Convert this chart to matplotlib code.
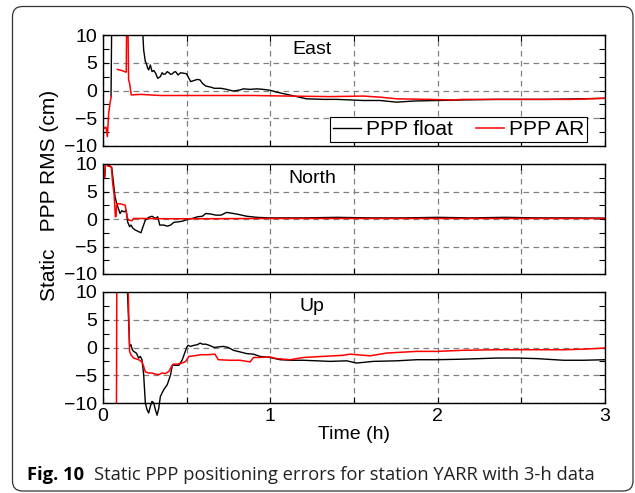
import numpy as np
import matplotlib
matplotlib.use("Agg")
import matplotlib.pyplot as plt
from matplotlib.patches import FancyBboxPatch, Rectangle
from matplotlib.transforms import IdentityTransform
from matplotlib.ticker import MultipleLocator, FuncFormatter

nan = np.nan

# ---------------- data (time in hours, errors in cm) ----------------
east_float_t = [0.048, 0.052, 0.235, 0.243, 0.253, 0.259, 0.266, 0.273, 0.283, 0.293, 0.303, 0.313,
                0.327, 0.343, 0.353, 0.363, 0.373, 0.384, 0.394, 0.404, 0.414, 0.424, 0.434, 0.448,
                0.464, 0.484, 0.500, 0.508, 0.524, 0.544, 0.564, 0.580, 0.594, 0.614, 0.645, 0.665,
                0.705, 0.739, 0.779, 0.819, 0.839, 0.879, 0.919, 0.958, 0.998, 1.038, 1.098, 1.158,
                1.217, 1.317, 1.397, 1.476, 1.556, 1.656, 1.755, 1.855, 1.995, 2.154, 2.353, 2.493,
                2.652, 2.851, 3.0]
east_float_v = [-1.0, 12, 12, 7.3, 5.2, 4.9, 4.1, 3.7, 4.6, 3.4, 3.6, 3.2,
                2.2, 2.5, 3.2, 2.9, 3.0, 3.4, 3.2, 2.9, 3.0, 3.3, 3.4, 2.8,
                3.2, 3.1, 3.0, 2.5, 1.6, 1.8, 2.0, 1.9, 1.3, 0.8, 0.6, 0.4,
                0.4, 0.2, -0.1, 0.1, 0.3, 0.2, 0.3, 0.2, 0.05, -0.3, -0.7, -1.1,
                -1.5, -1.6, -1.6, -1.7, -1.8, -1.8, -2.1, -1.9, -1.8, -1.7, -1.6, -1.6,
                -1.6, -1.5, -1.4]
east_ar_t = [0.0, 0.010, 0.018, 0.026, 0.034, 0.042, 0.050, 0.060, 0.086, 0.112, 0.139, 0.141,
             0.149, 0.153, 0.159, 0.169, 0.223, 0.343, 0.6, 0.9, 1.1, 1.357, 1.556, 1.656,
             1.755, 1.955, 2.094, 2.154, 2.5, 2.8, 3.0]
east_ar_v = [-6.5, -6.8, -6.6, -8.3, -4.1, -2.3, -1.0, nan, 3.8, 3.6, 3.3, 12,
             12, 1.9, 1.3, -0.8, -0.7, -0.9, -0.9, -0.9, -1.0, -1.1, -1.0, -1.2,
             -1.5, -1.6, -1.7, -1.6, -1.6, -1.6, -1.4]

north_float_t = [0.0, 0.010, 0.016, 0.022, 0.030, 0.038, 0.052, 0.062, 0.072, 0.082, 0.092, 0.102,
                 0.112, 0.127, 0.139, 0.147, 0.159, 0.167, 0.179, 0.193, 0.213, 0.227, 0.239, 0.253,
                 0.273, 0.293, 0.313, 0.327, 0.339, 0.363, 0.384, 0.404, 0.424, 0.454, 0.474, 0.494,
                 0.514, 0.534, 0.564, 0.594, 0.614, 0.645, 0.675, 0.705, 0.739, 0.779, 0.799, 0.859,
                 0.919, 0.998, 1.2, 1.4, 1.6, 1.8, 2.0, 2.2, 2.4, 2.6, 2.8, 3.0]
north_float_v = [7.6, 7.6, 10.5, 10.5, 9.8, 9.7, 9.4, 6.7, 4.0, 2.8, 1.9, 1.0,
                 1.5, 1.3, 1.6, -0.5, -1.4, -1.1, -1.7, -2.0, -2.3, -2.5, -1.4, -0.2,
                 0.3, 0.5, 0.1, 0.4, -1.1, -1.1, -1.3, -1.1, -0.6, -0.5, -0.4, -0.2,
                 0.0, 0.1, 0.4, 0.5, 1.0, 0.9, 0.7, 0.7, 1.2, 1.0, 0.9, 0.5,
                 0.3, 0.2, 0.2, 0.3, 0.2, 0.2, 0.3, 0.2, 0.3, 0.2, 0.2, 0.15]
north_ar_t = [0.0, 0.010, 0.016, 0.022, 0.030, 0.050, 0.058, 0.066, 0.074, 0.078, 0.082, 0.112,
              0.133, 0.143, 0.153, 0.173, 0.183, 0.4, 0.6, 1.0, 1.5, 2.0, 2.5, 3.0]
north_ar_v = [7.6, 7.6, 10.5, 10.5, 9.6, 9.5, 6.4, 4.6, 0.4, 0.5, 2.8, 2.7,
              2.5, 0.4, -0.2, -0.3, 0.1, 0.05, 0.05, 0.1, 0.1, 0.1, 0.1, 0.1]

up_float_t = [0.0, 0.141, 0.159, 0.167, 0.175, 0.183, 0.199, 0.213, 0.223, 0.233, 0.243, 0.253,
              0.263, 0.273, 0.283, 0.293, 0.303, 0.313, 0.323, 0.333, 0.343, 0.353, 0.363, 0.384,
              0.404, 0.414, 0.434, 0.454, 0.474, 0.488, 0.500, 0.508, 0.524, 0.544, 0.564, 0.580,
              0.594, 0.614, 0.635, 0.665, 0.689, 0.719, 0.749, 0.779, 0.819, 0.859, 0.899, 0.938,
              0.998, 1.058, 1.118, 1.197, 1.277, 1.357, 1.456, 1.516, 1.616, 1.755, 1.875, 1.995,
              2.154, 2.353, 2.473, 2.592, 2.752, 2.871, 3.0]
up_float_v = [14, 14, 0.2, 0.5, -0.4, -0.7, -1.0, -1.9, -1.6, -2.2, -4.9, -10.0,
              -11.2, -11.8, -10.6, -9.7, -10.0, -11.2, -12.2, -11.0, -8.8, -8.2, -7.6, -6.7,
              -4.9, -3.2, -3.2, -3.2, -2.2, -1.0, 0.0, 0.4, 0.2, 0.4, 0.5, 0.8,
              0.6, 0.6, 0.4, 0.0, 0.1, 0.2, 0.0, -0.5, -0.8, -1.1, -1.2, -1.6,
              -1.8, -2.2, -2.3, -2.3, -2.4, -2.5, -2.4, -2.8, -2.5, -2.4, -2.2, -2.2,
              -2.1, -1.9, -1.9, -2.0, -2.3, -2.3, -2.2]
up_ar_t = [0.080, 0.083, 0.147, 0.159, 0.167, 0.183, 0.213, 0.233, 0.243, 0.253, 0.273, 0.293,
           0.313, 0.333, 0.353, 0.373, 0.394, 0.410, 0.420, 0.444, 0.474, 0.494, 0.514, 0.544,
           0.584, 0.624, 0.669, 0.689, 0.759, 0.819, 0.879, 0.899, 0.938, 0.998, 1.038, 1.118,
           1.197, 1.317, 1.437, 1.476, 1.516, 1.596, 1.636, 1.696, 1.755, 1.875, 1.995, 2.154,
           2.353, 2.552, 2.752, 2.871, 3.0]
up_ar_v = [-15, 15, 15, -0.7, -1.3, -1.9, -2.2, -2.6, -3.4, -4.4, -4.6, -4.6,
           -4.8, -4.9, -4.6, -4.7, -4.3, -3.4, -3.0, -3.0, -2.8, -2.5, -1.6, -1.5,
           -1.3, -1.3, -1.2, -2.2, -2.3, -2.3, -2.6, -1.8, -1.8, -1.7, -2.0, -2.2,
           -1.8, -1.6, -1.4, -1.2, -1.3, -1.5, -1.3, -1.0, -0.9, -0.7, -0.7, -0.5,
           -0.4, -0.4, -0.4, -0.3, -0.1]

panel_names = ["East", "North", "Up"]
series_labels = ["PPP float", "PPP AR"]
y_ticks = [-10, -5, 0, 5, 10]
x_label = "Time (h)"
y_label = "Static   PPP RMS (cm)"
caption_bold = "Fig. 10"
caption_text = "Static PPP positioning errors for station YARR with 3-h data"

# ---------------- figure ----------------
plt.rcParams['font.family'] = ['Liberation Sans', 'DejaVu Sans']
W, H = 635, 493
fig = plt.figure(figsize=(W / 100, H / 100), dpi=100)

left = 103 / W
width = (605 - 103) / W
panel_px = [(35, 146), (164, 274), (292, 403)]

data = [(east_float_t, east_float_v, east_ar_t, east_ar_v),
        (north_float_t, north_float_v, north_ar_t, north_ar_v),
        (up_float_t, up_float_v, up_ar_t, up_ar_v)]

FS = 14
axes = []
for i, (top, bot) in enumerate(panel_px):
    ax = fig.add_axes([left, 1 - bot / H, width, (bot - top) / H])
    axes.append(ax)
    ft, fv, at, av = data[i]
    lf, = ax.plot(ft, fv, color='black', lw=1.0, label=series_labels[0], zorder=3)
    la, = ax.plot(at, av, color='#ff0000', lw=1.1, label=series_labels[1], zorder=4)
    if i == 2:
        # the float curve runs past the bottom of the last panel
        clip_rect = Rectangle((0, -0.35), 1, 1.35, transform=ax.transAxes)
        lf.set_clip_path(clip_rect)
    ax.set_xlim(0, 3)
    ax.set_ylim(-10, 10)
    ax.set_yticks(y_ticks)
    ax.yaxis.set_minor_locator(MultipleLocator(2.5))
    ax.xaxis.set_major_locator(MultipleLocator(0.5))
    ax.xaxis.set_major_formatter(FuncFormatter(
        lambda v, p: ("%d" % round(v)) if abs(v - round(v)) < 1e-6 else ""))
    ax.grid(True, which='major', color='#808080', linestyle=(0, (4.5, 3.5)), lw=0.9)
    ax.set_axisbelow(True)
    ax.tick_params(which='both', direction='in', top=True, right=True,
                   length=4, width=0.8, labelsize=FS, pad=4, colors='black')
    ax.tick_params(axis='x', pad=3.5)
    for s in ax.spines.values():
        s.set_linewidth(1.0)
        s.set_zorder(5)
    ax.text(1.25, 6.5, panel_names[i], ha='center', va='baseline', fontsize=FS)
    if i < 2:
        ax.tick_params(axis='x', labelbottom=False)
    if i == 0:
        leg = ax.legend(handles=[lf, la], loc='lower right', ncol=2,
                        bbox_to_anchor=((587 - 103) / 502, (146 - 142) / 111),
                        borderaxespad=0, fontsize=15, frameon=True, fancybox=False,
                        handlelength=1.35, handletextpad=0.2, columnspacing=1.15,
                        borderpad=0.15, framealpha=1)
        leg.get_frame().set_edgecolor('black')
        leg.get_frame().set_linewidth(0.8)
        leg.set_zorder(6)

axes[2].set_xlabel(x_label, fontsize=FS, labelpad=1)
fig.text(50 / W, 1 - 195 / H, y_label, rotation=90, ha='center', va='center', fontsize=15)

# caption
cap_x0 = 27
cap_target = 594 - 27
cap_base = 1 - 480 / H
fs = 11.0
cap_font = ['Open Sans', 'DejaVu Sans']
renderer = fig.canvas.get_renderer()
for _ in range(3):
    for t in list(fig.texts):
        if getattr(t, '_cap', False):
            t.remove()
    t1 = fig.text(cap_x0 / W, cap_base, caption_bold, fontsize=fs, fontweight='bold',
                  family=cap_font, va='baseline', ha='left')
    t1._cap = True
    bb = t1.get_window_extent(renderer)
    gap = 0.75 * fs
    t2 = fig.text((bb.x1 + gap) / W, cap_base, caption_text, fontsize=fs,
                  family=cap_font, va='baseline', ha='left', color='#222222')
    t2._cap = True
    bb2 = t2.get_window_extent(renderer)
    total = bb2.x1 - cap_x0
    fs = fs * cap_target / total

# rounded border
border = FancyBboxPatch((12.5, H - 491), 633 - 12.5, 491 - 6.5,
                        boxstyle="round,pad=0,rounding_size=10",
                        transform=IdentityTransform(), fill=False,
                        edgecolor='#333333', linewidth=0.9)
fig.patches.append(border)

fig.savefig("out.png", dpi=100)
